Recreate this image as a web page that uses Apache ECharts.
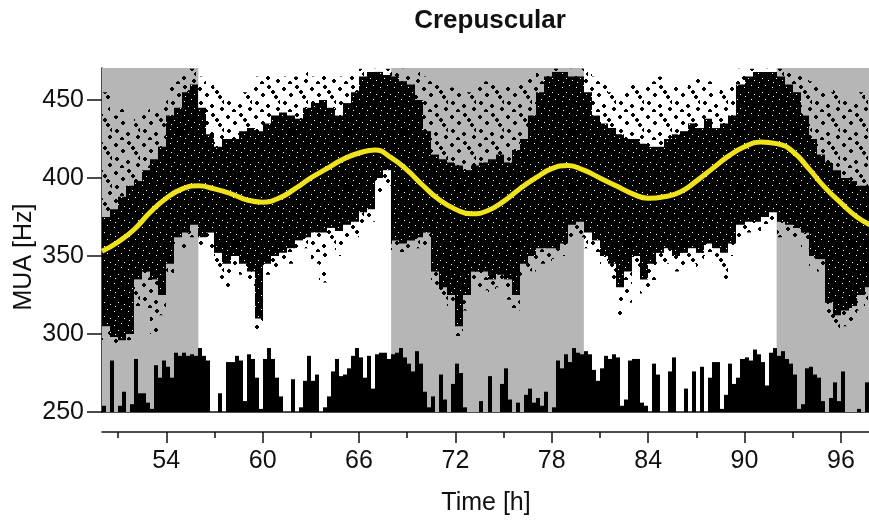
<!DOCTYPE html>
<html><head><meta charset="utf-8">
<script src="https://cdn.jsdelivr.net/npm/echarts@6/dist/echarts.min.js"></script>
<style>html,body{margin:0;padding:0;background:#fff}#c{width:869px;height:523px}</style>
</head><body><div id="c"></div>
<script>
// ---------------- data ----------------
const titleText = 'Crepuscular';
const xName = 'Time [h]';
const yName = 'MUA [Hz]';
const xMin = 50, xMax = 97.75, yMin = 250, yMax = 470.5;
const xTicks = [54, 60, 66, 72, 78, 84, 90, 96];
const xMinorTicks = [51, 57, 63, 69, 75, 81, 87, 93];
const yTicks = [250, 300, 350, 400, 450];
const nightRanges = [[50, 56], [68, 80], [92, 97.75]];

// MUA point cloud, read per half-hour bin (start 50 h): dense core and sparse envelope [Hz]
const cloudStart = 50, cloudStep = 0.5;
const cloudCoreLow = [
  305,298,296,300,335,340,335,325,345,362,365,370,
  362,365,352,345,350,345,340,310,345,350,352,355,360,362,365,365,368,366,370,372,378,380,400,405,
  360,358,360,362,365,340,330,325,305,325,340,340,335,338,335,325,345,350,355,355,355,358,370,372,
  365,360,350,345,330,340,350,335,345,352,355,350,352,355,352,358,355,352,358,370,372,372,375,378,
  372,370,368,365,350,348,320,312,315,318,325,330];
const cloudCoreHigh = [
  375,380,388,395,398,405,412,420,440,445,455,460,
  445,428,420,425,425,430,432,430,435,440,442,440,438,445,448,450,445,440,448,455,465,468,468,466,
  465,462,460,450,430,415,412,410,408,405,408,410,412,415,410,418,425,440,455,465,468,468,465,465,
  455,440,435,432,428,425,425,422,420,420,425,428,430,435,432,438,432,435,440,460,465,468,468,468,
  465,460,455,440,425,415,410,405,400,398,395,395];
const cloudSparseLow = [
  295,292,293,296,318,316,300,312,338,355,355,362,
  355,355,335,325,340,338,330,302,338,342,343,345,352,355,345,333,358,350,360,362,368,372,390,395,
  352,350,352,355,355,330,320,315,294,315,330,328,325,330,322,315,335,340,345,345,348,350,360,362,
  355,352,340,335,307,320,340,326,330,345,345,340,343,345,343,350,346,334,350,362,365,365,368,370,
  362,360,360,355,343,340,310,302,305,308,315,320];
const cloudSparseHigh = [
  455,440,445,430,440,445,442,450,460,462,470,470,
  465,460,458,455,450,455,460,465,468,465,465,468,465,468,465,468,466,465,468,468,470,470,470,470,
  470,470,468,468,465,462,460,458,460,455,458,462,460,458,462,460,462,465,468,470,470,470,470,470,
  468,465,462,455,455,460,462,460,462,465,460,462,458,462,465,462,455,460,462,470,470,470,470,470,
  470,470,468,465,462,460,455,458,455,450,455,450];

// Cosinor fit (yellow)
const fitTimes = [50,51,52,53,54,55,56,57,58,59,60,61,62,63,64,65,66,67,68,69,70,71,72,73,74,
  75,76,77,78,79,80,81,82,83,84,85,86,87,88,89,90,91,92,93,94,95,96,97,98];
const fitValues = [353,359,367,378,387,393,395,393,390,386,384.5,387,393,400,406,412,416,418,413,405,395,386,380,377,379,
  385,393,400,406,408,405,400,395,390,387,388,391,398,406,414,420,423,422,417,406,394,384,375,369];

// Activity bars (quarter-hour bins from 50 h), top value on MUA scale
const actStart = 50, actStep = 0.25;
const activity = [
  254,250,283,250,254,263,250,255,284,262,262,256,252,280,272,283,279,272,288,286,
  288,286,287,286,291,286,283,250,250,262,250,282,282,286,283,257,287,284,272,252,
  284,291,284,272,260,250,250,271,250,253,270,286,270,274,250,253,260,276,284,273,
  274,278,286,291,285,272,286,265,287,288,288,284,287,288,291,285,281,276,289,281,
  263,253,260,250,274,258,250,268,281,275,253,250,250,250,257,250,273,250,250,268,
  278,258,250,256,250,261,265,256,259,254,263,250,253,283,278,287,282,291,288,287,
  289,287,277,270,278,286,284,287,285,254,258,283,284,284,256,254,250,281,274,250,
  250,276,285,250,250,265,250,276,250,279,250,272,282,282,252,261,281,268,272,284,
  285,283,290,287,282,267,288,291,286,289,284,281,274,252,255,278,279,274,272,257,
  250,259,269,257,276,250,250,250,252,250,269];

// ---------------- chart ----------------
const FONT = '"Liberation Sans", Arial, sans-serif';
const INK = '#111';

// texture for the sparse part of the point cloud (fixed marker layout)
const pat = document.createElement('canvas');
pat.width = 28; pat.height = 28;
const g = pat.getContext('2d');
g.fillStyle = '#000';
[[3,4],[16,2],[10,10],[23,12],[4,18],[15,21],[25,24],[20,7],[9,26],[27,17]].forEach(([x, y]) => {
  g.fillRect(x - 1, y, 4, 2); g.fillRect(x, y - 1, 2, 4);
});
const dotPattern = { image: pat, repeat: 'repeat' };

// texture for the dense core (black with a few gaps)
const pat2 = document.createElement('canvas');
pat2.width = 14; pat2.height = 14;
const g2 = pat2.getContext('2d');
g2.fillStyle = '#000'; g2.fillRect(0, 0, 14, 14);
g2.fillStyle = '#fff';
[[2,3],[9,1],[6,8],[12,10],[3,12]].forEach(([x, y]) => g2.fillRect(x, y, 1, 1));
const corePattern = { image: pat2, repeat: 'repeat' };

function clip(r, params) {
  const cs = params.coordSys;
  return echarts.graphic.clipRectByRect(r, { x: cs.x, y: cs.y, width: cs.width, height: cs.height });
}

const cloudData = cloudCoreLow.map((v, i) => [cloudStart + i * cloudStep, v, cloudCoreHigh[i], cloudSparseLow[i], cloudSparseHigh[i]]);
const actData = activity.map((v, i) => [actStart + i * actStep, v]);
const fitData = fitTimes.map((t, i) => [t, fitValues[i]]);

const chart = echarts.init(document.getElementById('c'), null, { renderer: 'canvas' });
chart.setOption({
  animation: false,
  backgroundColor: '#fff',
  grid: { left: 102, right: 0, top: 68, bottom: 111, containLabel: false, outerBoundsMode: 'none' },
  xAxis: [
    { type: 'value', min: xMin, max: xMax, position: 'bottom', offset: 20,
      axisLine: { show: true, onZero: false, lineStyle: { color: INK, width: 1.5 } },
      axisTick: { show: true, customValues: xTicks, length: 11, lineStyle: { color: INK, width: 1.5 } },
      axisLabel: { show: true, customValues: xTicks, fontSize: 25, color: INK, margin: 17, fontFamily: FONT },
      splitLine: { show: false } },
    { type: 'value', min: xMin, max: xMax, position: 'bottom', offset: 20,
      axisLine: { show: false, onZero: false },
      axisTick: { show: true, customValues: xMinorTicks, length: 6, lineStyle: { color: INK, width: 1.5 } },
      axisLabel: { show: false }, splitLine: { show: false } },
    { type: 'value', min: xMin, max: xMax, position: 'bottom', offset: 0,
      axisLine: { show: true, onZero: false, lineStyle: { color: INK, width: 1.5 } },
      axisTick: { show: false }, axisLabel: { show: false }, splitLine: { show: false } }
  ],
  yAxis: {
    type: 'value', min: yMin, max: yMax,
    axisLine: { show: true, onZero: false, lineStyle: { color: INK, width: 1.5 } },
    axisTick: { show: true, customValues: yTicks, length: 15, lineStyle: { color: INK, width: 1.5 } },
    axisLabel: { show: true, customValues: yTicks, fontSize: 25, color: INK, margin: 18, fontFamily: FONT },
    splitLine: { show: false }
  },
  graphic: [
    { type: 'text', x: 490, y: 21, style: { text: titleText, fill: INK, font: 'bold 26px ' + FONT,
        align: 'center', verticalAlign: 'middle', textAlign: 'center', textVerticalAlign: 'middle' } },
    { type: 'text', x: 486, y: 503, style: { text: xName, fill: INK, font: '25px ' + FONT,
        align: 'center', verticalAlign: 'middle', textAlign: 'center', textVerticalAlign: 'middle' } },
    { type: 'text', x: 24, y: 257, rotation: Math.PI / 2, style: { text: yName, fill: INK, font: '25px ' + FONT,
        align: 'center', verticalAlign: 'middle', textAlign: 'center', textVerticalAlign: 'middle' } }
  ],
  series: [
    { type: 'custom', name: 'night', z: 1, silent: true,
      data: nightRanges,
      encode: { x: [0, 1] },
      renderItem(params, api) {
        const a = api.coord([api.value(0), yMax]);
        const b = api.coord([api.value(1), yMin]);
        const r = clip({ x: a[0], y: a[1], width: b[0] - a[0], height: b[1] - a[1] }, params);
        return r ? { type: 'rect', shape: r, style: { fill: '#b6b6b6' } } : null;
      } },
    { type: 'custom', name: 'MUA', z: 2, silent: true,
      data: cloudData,
      encode: { x: 0, y: [1, 2, 3, 4] },
      renderItem(params, api) {
        const t0 = api.value(0), t1 = t0 + cloudStep;
        const x0 = Math.round(api.coord([t0, yMin])[0]);
        const x1 = Math.round(api.coord([t1, yMin])[0]);
        const ySh = api.coord([t0, api.value(4)])[1], ySl = api.coord([t0, api.value(3)])[1];
        const yCh = api.coord([t0, api.value(2)])[1], yCl = api.coord([t0, api.value(1)])[1];
        const sparse = clip({ x: x0, y: ySh, width: x1 - x0, height: ySl - ySh }, params);
        const core = clip({ x: x0, y: yCh, width: x1 - x0, height: yCl - yCh }, params);
        const children = [];
        if (sparse) children.push({ type: 'rect', shape: sparse, style: { fill: dotPattern } });
        if (core) children.push({ type: 'rect', shape: core, style: { fill: corePattern } });
        return { type: 'group', children };
      } },
    { type: 'custom', name: 'activity', z: 3, silent: true,
      data: actData,
      encode: { x: 0, y: 1 },
      renderItem(params, api) {
        const v = api.value(1);
        if (v <= yMin) return null;
        const t0 = api.value(0);
        const x0 = Math.round(api.coord([t0, v])[0]);
        const x1 = Math.round(api.coord([t0 + actStep, v])[0]);
        const p = api.coord([t0, v]);
        const b = api.coord([t0, yMin]);
        const r = clip({ x: x0, y: p[1], width: Math.max(2, x1 - x0), height: b[1] - p[1] }, params);
        return r ? { type: 'rect', shape: r, style: { fill: '#000' } } : null;
      } },
    { type: 'line', name: 'fit', z: 4, data: fitData, smooth: true, symbol: 'none', showSymbol: false, clip: true,
      lineStyle: { color: '#f0e31c', width: 5 }, silent: true }
  ]
});
</script>
</body></html>
